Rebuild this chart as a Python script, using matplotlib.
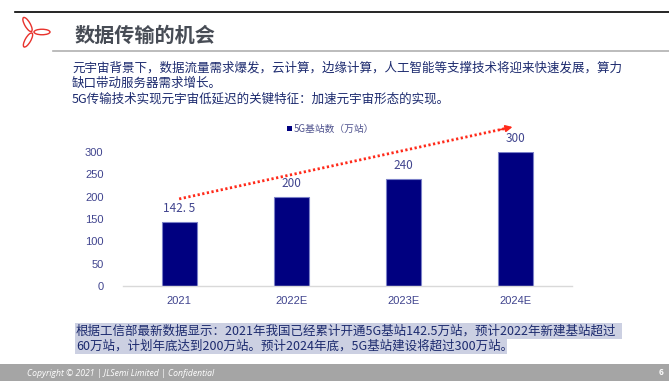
import matplotlib
matplotlib.use("Agg")
import matplotlib.pyplot as plt
from matplotlib.patches import Ellipse, Rectangle

plt.rcParams['font.family'] = ['Noto Sans CJK SC', 'DejaVu Sans']

categories = ['2021', '2022E', '2023E', '2024E']
values = [142.5, 200, 240, 300]
value_labels = ['142. 5', '200', '240', '300']
yticks = [0, 50, 100, 150, 200, 250, 300]
legend_label = '5G基站数（万站）'
title = '数据传输的机会'
para = ['元宇宙背景下，数据流量需求爆发，云计算，边缘计算，人工智能等支撑技术将迎来快速发展，算力',
        '缺口带动服务器需求增长。',
        '5G传输技术实现元宇宙低延迟的关键特征：加速元宇宙形态的实现。']
note = ['根据工信部最新数据显示：2021年我国已经累计开通5G基站142.5万站，预计2022年新建基站超过',
        '60万站，计划年底达到200万站。预计2024年底，5G基站建设将超过300万站。']
footer = 'Copyright © 2021 | JLSemi Limited | Confidential'
page = '6'

W, H = 669, 381
fig = plt.figure(figsize=(W / 100, H / 100), dpi=100)
fig.patch.set_facecolor('white')

# overlay in pixel coordinates
ov = fig.add_axes([0, 0, 1, 1])
ov.set_xlim(0, W)
ov.set_ylim(H, 0)
ov.axis('off')

ov.plot([15, W], [12, 12], color='black', lw=1.2)
ov.plot([53, W], [51, 51], color='#b0b0b0', lw=1.2)
# logo: three loops radiating from a centre
for ang, (cx, cy) in zip([60, 0, -60], [(27.5, 24.5), (42, 32), (28, 40)]):
    ov.add_patch(Ellipse((cx, cy), 16, 5.5, angle=ang, fill=False, ec='#e8322c', lw=1.0))
ov.text(75, 35, title, fontsize=14.5, fontweight='bold', color='#474c55', va='center', ha='left')

para_y = [68, 83, 99]
for t, y in zip(para, para_y):
    ov.text(72, y, t, fontsize=9, color='#1c2a6e', va='center', ha='left')

# note highlight
ov.add_patch(Rectangle((75, 323), 547, 16, color='#ccd0e2', lw=0))
ov.add_patch(Rectangle((75, 339), 432, 15, color='#ccd0e2', lw=0))
note_y = [331, 346]
for t, y in zip(note, note_y):
    ov.text(76, y, t, fontsize=9, color='#1c2a6e', va='center', ha='left')

# footer
ov.add_patch(Rectangle((0, 364), W, 17, color='#a5a5a5', lw=0))
ov.text(27, 373, footer, fontsize=6.2, color='white', style='italic', va='center', ha='left',
        family=['Open Sans', 'DejaVu Sans'])
ov.text(661, 372.5, page, fontsize=6, color='white', fontweight='bold', va='center', ha='center')

# chart
ax = fig.add_axes([123 / W, (H - 286) / H, 449 / W, 134 / H])
x = list(range(len(categories)))
ax.bar(x, values, width=0.31, color='#000080', edgecolor='#7b80c8', linewidth=0.8)
ax.set_xlim(-0.5, len(categories) - 0.5)
ax.set_ylim(0, 300)
ax.set_yticks(yticks)
ax.set_xticks(x)
ax.set_xticklabels(categories)
for s in ['top', 'right', 'left']:
    ax.spines[s].set_visible(False)
ax.spines['bottom'].set_color('#d9d9d9')
ax.spines['bottom'].set_linewidth(1)
ax.tick_params(axis='both', length=0, labelsize=8, labelcolor='#40448e')
for lab in ax.get_xticklabels() + ax.get_yticklabels():
    lab.set_family(['Liberation Sans', 'DejaVu Sans'])
ax.tick_params(axis='y', pad=14)
ax.tick_params(axis='x', pad=7)
for xi, v, lab in zip(x, values, value_labels):
    ax.annotate(lab, (xi, v), xytext=(0, 5), textcoords='offset points', ha='center',
                va='bottom', fontsize=8.5, color='#40448e')

# dotted trend arrow
x0, y0, x1, y1 = 0.0, 195, 2.97, 356
ax.plot([x0, x1 - 0.05], [y0, y1 - 2.7], color='#ff2a1a', lw=2, ls=(0, (0.8, 0.9)),
        clip_on=False, solid_capstyle='butt')
ax.annotate('', xy=(x1, y1), xytext=(x1 - 0.12, y1 - 6.5), xycoords='data',
            arrowprops=dict(arrowstyle='-|>', color='#ff2a1a', lw=1.2, mutation_scale=10,
                            shrinkA=0, shrinkB=0),
            annotation_clip=False)

# legend
ov.add_patch(Rectangle((287, 126), 5, 5, color='#000080', lw=0))
ov.text(294, 128.5, legend_label, fontsize=7, color='#50548f', va='center', ha='left')

fig.savefig('out.png', dpi=100)
